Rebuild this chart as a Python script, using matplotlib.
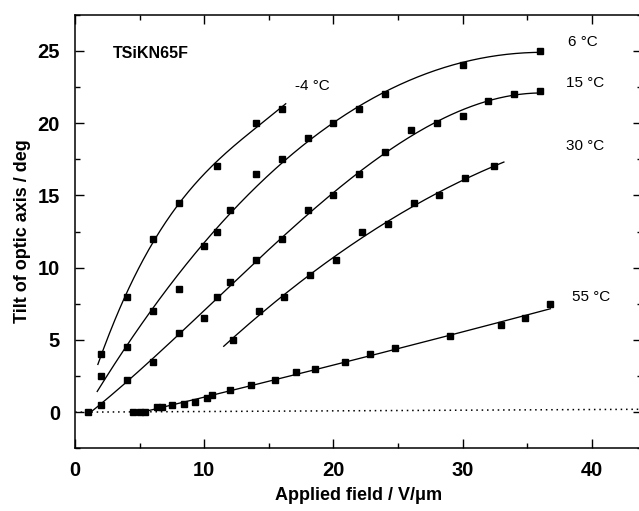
import numpy as np
import matplotlib.pyplot as plt
from matplotlib.ticker import MultipleLocator

plt.rcParams['font.family'] = ['Liberation Sans', 'DejaVu Sans']

# data (field V/um, tilt deg)
x_m4 = [2, 4, 6, 8, 11, 14, 16]
y_m4 = [4, 8, 12, 14.5, 17, 20, 21]

x_6 = [2, 4, 6, 8, 10, 11, 12, 14, 16, 18, 20, 22, 24, 30, 36]
y_6 = [2.5, 4.5, 7, 8.5, 11.5, 12.5, 14, 16.5, 17.5, 19, 20, 21, 22, 24, 25]

x_15 = [1, 2, 4, 6, 8, 10, 11, 12, 14, 16, 18, 20, 22, 24, 26, 28, 30, 32, 34, 36]
y_15 = [0, 0.5, 2.2, 3.5, 5.5, 6.5, 8, 9, 10.5, 12, 14, 15, 16.5, 18, 19.5, 20,
        20.5, 21.5, 22, 22.2]

x_30 = [12.2, 14.2, 16.2, 18.2, 20.2, 22.2, 24.2, 26.2, 28.2, 30.2, 32.4]
y_30 = [5, 7, 8, 9.5, 10.5, 12.5, 13, 14.5, 15, 16.2, 17]

x_55 = [4.5, 5.0, 5.4, 6.3, 6.7, 7.5, 8.4, 9.3, 10.2, 10.6, 12, 13.6, 15.5, 17.1,
        18.6, 20.9, 22.8, 24.8, 29, 33, 34.8, 36.8]
y_55 = [0, 0, 0, 0.33, 0.35, 0.48, 0.55, 0.7, 0.95, 1.2, 1.5, 1.85, 2.2, 2.75,
        3.0, 3.5, 4.0, 4.45, 5.25, 6.0, 6.5, 7.45]

# (x, y, fit kind, fit start, fit end)
series = [
    (x_m4, y_m4, 'poly3', 1.75, 16.3),
    (x_6, y_6, 'exp', 1.7, 36.0),
    (x_15, y_15, 'poly3', 1.0, 36.0),
    (x_30, y_30, 'poly2', 11.5, 33.2),
    (x_55, y_55, 'poly2', 5.0, 36.8),
]

labels = ['-4 °C', '6 °C', '15 °C', '30 °C', '55 °C']
label_x = [17.0, 38.2, 38.0, 38.0, 38.5]
label_y = [22.6, 25.6, 22.8, 18.4, 7.95]

zero_x = [0, 43.9]
zero_y = [0, 0.2]


def smooth_curve(xs, ys, kind, xf):
    xs = np.asarray(xs, dtype=float)
    ys = np.asarray(ys, dtype=float)
    if kind == 'exp':
        # y = p + s*x + q*exp(-x/B), B picked by least squares on a grid
        best = None
        for B in np.linspace(5, 100, 400):
            A = np.column_stack([np.ones_like(xs), xs, np.exp(-xs / B)])
            c, *_ = np.linalg.lstsq(A, ys, rcond=None)
            r = np.sum((A @ c - ys) ** 2)
            if best is None or r < best[0]:
                best = (r, B, c)
        _, B, c = best
        return c[0] + c[1] * xf + c[2] * np.exp(-xf / B)
    deg = int(kind[-1])
    return np.polyval(np.polyfit(xs, ys, deg), xf)


fig = plt.figure(figsize=(6.39, 5.11), dpi=100)
ax = fig.add_axes([0.1178, 0.1227, 0.8869, 0.8485])

for xs, ys, kind, x0, x1 in series:
    xf = np.linspace(x0, x1, 200)
    ax.plot(xf, smooth_curve(xs, ys, kind, xf), color='black', lw=0.95)
    ax.plot(xs, ys, 's', color='black', ms=4.8)

ax.plot(zero_x, zero_y, color='black', lw=1.1, ls=(0, (1, 2.5)))

for t, tx, ty in zip(labels, label_x, label_y):
    ax.text(tx, ty, t, fontsize=11, va='center', ha='left')

ax.text(2.95, 24.8, 'TSiKN65F', fontsize=11.5, fontweight='bold', va='center')

ax.set_xlim(0, 43.9)
ax.set_ylim(-2.5, 27.5)
ax.xaxis.set_major_locator(MultipleLocator(10))
ax.xaxis.set_minor_locator(MultipleLocator(5))
ax.yaxis.set_major_locator(MultipleLocator(5))
ax.yaxis.set_minor_locator(MultipleLocator(2.5))
ax.tick_params(which='both', direction='in', top=True, right=True, width=1.0)
ax.tick_params(which='major', length=6.5)
ax.tick_params(which='minor', length=3.6)
ax.tick_params(axis='x', pad=9)
ax.tick_params(axis='y', pad=11)
for lab in ax.get_xticklabels() + ax.get_yticklabels():
    lab.set_fontsize(14.5)
    lab.set_fontweight('bold')
for s in ax.spines.values():
    s.set_linewidth(1.1)

ax.set_xlabel('Applied field / V/μm', fontsize=13, fontweight='bold', labelpad=5)
ax.set_ylabel('Tilt of optic axis / deg', fontsize=13, fontweight='bold', labelpad=5)

fig.savefig('out.png', dpi=100)
